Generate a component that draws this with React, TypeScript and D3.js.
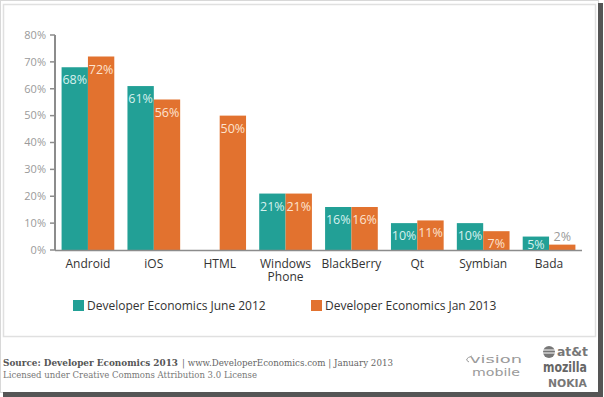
import React from 'react';
import * as d3 from 'd3';

const categories = ['Android', 'iOS', 'HTML', 'Windows Phone', 'BlackBerry', 'Qt', 'Symbian', 'Bada'];
const june2012: (number | null)[] = [68, 61, null, 21, 16, 10, 10, 5];
const jan2013: (number | null)[] = [72, 56, 50, 21, 16, 11, 7, 2];
const seriesNames = ['Developer Economics June 2012', 'Developer Economics Jan 2013'];
const yTicks = [0, 10, 20, 30, 40, 50, 60, 70, 80];

const TEAL = '#22a096';
const ORANGE = '#e2722f';
const FONT = '"Open Sans", "DejaVu Sans", sans-serif';
const SERIF = '"DejaVu Serif", "Liberation Serif", serif';

const W = 604;
const H = 397;

const App = () => {
  const x = d3.scaleBand<string>().domain(categories).range([55, 582]).paddingInner(0.2).paddingOuter(0.1);
  const x1 = d3.scaleBand<string>().domain(['a', 'b']).range([0, x.bandwidth()]);
  const y = d3.scaleLinear().domain([0, 80]).range([250, 35]);

  const series = [
    { key: 'a', values: june2012, color: TEAL, label: '#d6f1ee' },
    { key: 'b', values: jan2013, color: ORANGE, label: '#fde3cf' },
  ];

  return (
    <div style={{ position: 'absolute', left: 0, top: 0 }}>
      <svg width={W} height={H} style={{ display: 'block', background: '#fff' }}>
        {/* frame + drop shadow */}
        <rect x={0.5} y={0.5} width={598} height={392} fill="#fff" stroke="#d8d8d8" />
        <rect x={598} y={3} width={5} height={394} fill="#555" />
        <rect x={3} y={392} width={600} height={5} fill="#555" />
        <rect x={3.5} y={4.5} width={592} height={332} fill="none" stroke="#e0e0e0" strokeWidth={1.5} />

        {/* y axis */}
        <g>
          <line x1={55} x2={55} y1={y(80)} y2={y(0)} stroke="#8c8c8c" strokeWidth={2} />
          {yTicks.map((t) => (
            <g key={t} transform={`translate(0,${y(t)})`}>
              <line x1={50} x2={55} stroke="#8c8c8c" strokeWidth={1.5} />
              <text x={46} dy="0.35em" textAnchor="end" fontFamily={FONT} fontSize={11} fill="#9a9a9a">
                {t}%
              </text>
            </g>
          ))}
        </g>

        {/* bars */}
        {series.map((s) =>
          categories.map((c, i) => {
            const v = s.values[i];
            if (v == null) return null;
            const bx = (x(c) ?? 0) + (x1(s.key) ?? 0);
            const top = y(v);
            const h = y(0) - top;
            const inside = h > 10;
            return (
              <g key={s.key + c}>
                <rect x={bx} y={top} width={x1.bandwidth()} height={h + 1} fill={s.color} />
                <text
                  x={bx + x1.bandwidth() / 2}
                  y={inside ? Math.min(top + 17, 249) : top - 4}
                  textAnchor="middle"
                  fontFamily={FONT}
                  fontSize={12.5}
                  fill={inside ? s.label : '#9a9a9a'}
                >
                  {v}%
                </text>
              </g>
            );
          })
        )}

        {/* x axis */}
        <line x1={55} x2={582} y1={y(0) + 0.5} y2={y(0) + 0.5} stroke="#8c8c8c" strokeWidth={1.5} />
        {categories.map((c) =>
          c.split(' ').map((l, j) => (
            <text
              key={c + l}
              x={(x(c) ?? 0) + x.bandwidth() / 2}
              y={268 + j * 13}
              textAnchor="middle"
              fontFamily={FONT}
              fontSize={12}
              fill="#333"
            >
              {l}
            </text>
          ))
        )}

        {/* legend */}
        {series.map((s, i) => (
          <g key={s.key} transform={`translate(${i === 0 ? 73 : 311},300)`}>
            <rect width={11} height={11} fill={s.color} />
            <text x={14} y={10} fontFamily={FONT} fontSize={12} fill="#333">
              {seriesNames[i]}
            </text>
          </g>
        ))}

        {/* footer */}
        <text x={3} y={366} fontFamily={SERIF} fontSize={10} fontWeight="bold" fill="#555" textLength={175} lengthAdjust="spacingAndGlyphs">
          Source: Developer Economics 2013
        </text>
        <text x={182} y={366} fontFamily={SERIF} fontSize={10} fill="#666" textLength={211} lengthAdjust="spacingAndGlyphs">
          | www.DeveloperEconomics.com | January 2013
        </text>
        <text x={3} y={378} fontFamily={SERIF} fontSize={10} fill="#777" textLength={254} lengthAdjust="spacingAndGlyphs">
          Licensed under Creative Commons Attribution 3.0 License
        </text>

        {/* logos */}
        <g fontFamily='"DejaVu Sans", sans-serif'>
          <path d="M472 356 q-9 3 -3 6" fill="none" stroke="#9a9a9a" strokeWidth={1} />
          <text x={470} y={363} fontSize={11} fill="#9a9a9a" textLength={52} lengthAdjust="spacingAndGlyphs">vision</text>
          <text x={472} y={376} fontSize={10} fill="#9a9a9a" textLength={48} lengthAdjust="spacingAndGlyphs">mobile</text>
          <circle cx={549} cy={352} r={6} fill="#777" />
          <line x1={543} x2={555} y1={350} y2={350} stroke="#fff" strokeWidth={1} />
          <line x1={543} x2={555} y1={353} y2={353} stroke="#fff" strokeWidth={1} />
          <text x={557} y={356} fontSize={12} fontWeight="bold" fill="#777" textLength={31} lengthAdjust="spacingAndGlyphs">at&amp;t</text>
          <text x={543} y={372} fontSize={14} fontWeight="bold" fill="#666" textLength={44} lengthAdjust="spacingAndGlyphs">mozilla</text>
          <text x={548} y={387} fontSize={10} fontWeight="bold" fill="#777" textLength={39} lengthAdjust="spacingAndGlyphs">NOKIA</text>
        </g>
      </svg>
    </div>
  );
};

export default App;
